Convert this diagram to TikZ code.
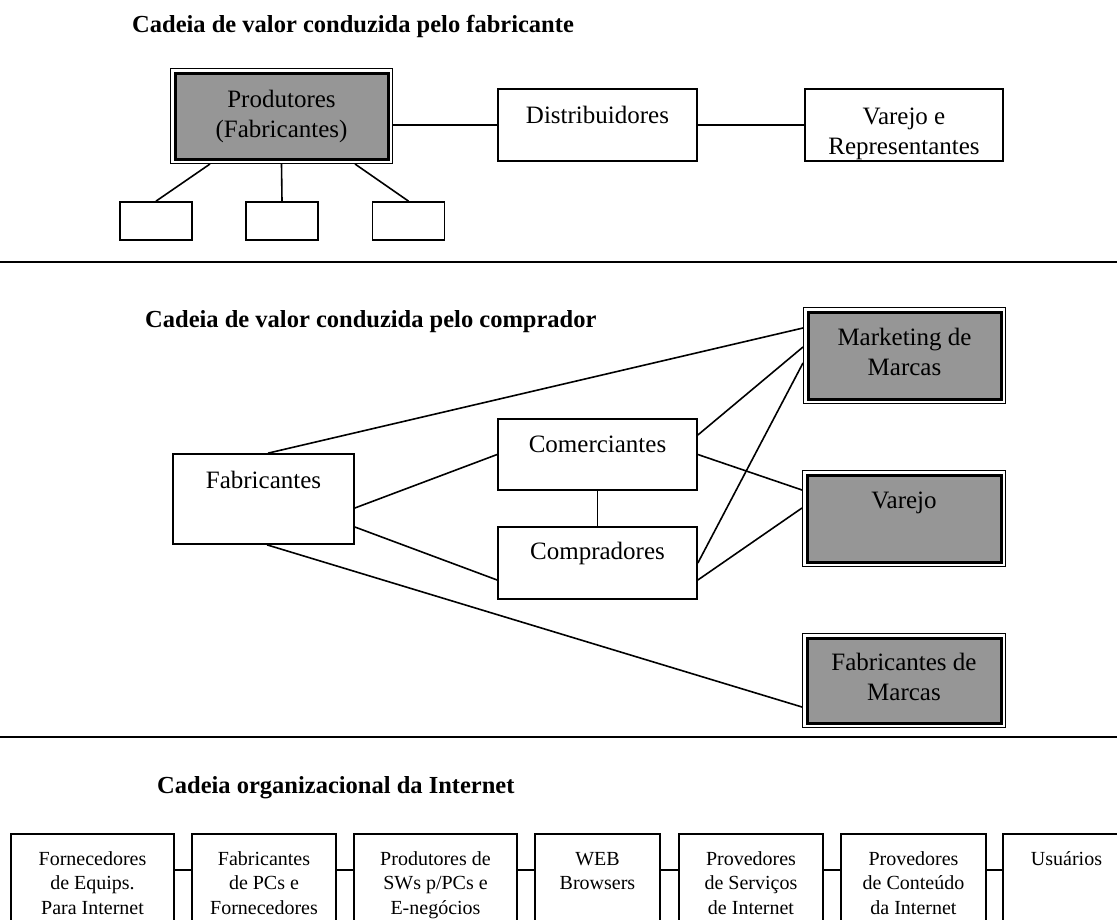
\documentclass[tikz,border=0pt]{standalone}
\usepackage{fontspec}
\setmainfont{Liberation Serif}

\definecolor{boxgrey}{HTML}{969696}

\tikzset{
  box/.style={rectangle, draw=black, line width=1.7pt, fill=white, inner sep=0pt},
  greybox/.style={rectangle, inner sep=0pt, outer sep=5pt, fill=boxgrey,
    draw=black, line width=3pt,
    preaction={draw=black, line width=10pt},
    preaction={draw=white, line width=8pt}},
  % multi-line labels are placed by the baseline of their last line
  lbl/.style={font=\fontsize{25}{30}\selectfont, align=center, inner sep=0pt, anchor=base},
  small/.style={font=\fontsize{20}{24.5}\selectfont, align=center, inner sep=0pt, anchor=base},
  ttl/.style={font=\bfseries\fontsize{24.5}{29}\selectfont, inner sep=0pt, anchor=base west},
  link/.style={draw, line width=1.6pt},
  rule/.style={draw, line width=1.6pt},
}

\begin{document}
\begin{tikzpicture}[x=1pt,y=-1pt]
\useasboundingbox (0,0) rectangle (1117,919);
\fill[white] (0,0) rectangle (1117,919);
\clip (0,0) rectangle (1117,919);

% section titles
\node[ttl] (t1) at (132,32) {Cadeia de valor conduzida pelo fabricante};
\node[ttl] (t2) at (145,327) {Cadeia de valor conduzida pelo comprador};
\node[ttl] (t3) at (157,793) {Cadeia organizacional da Internet};

% separators
\draw[rule] (0,262) -- (1117,262);
\draw[rule] (0,737) -- (1117,737);

% ---- producer-driven chain ----
\node[greybox, minimum width=213pt, minimum height=86pt] (prod) at (281.5,116) {};
\node[lbl] (prodt) at (281.5,137) {Produtores\\(Fabricantes)};
\node[box, minimum width=72pt, minimum height=38pt] (s1) at (156,221) {};
\node[box, minimum width=72pt, minimum height=38pt] (s2) at (282,221) {};
\node[box, minimum width=72pt, minimum height=38pt] (s3) at (408.5,221) {};
\node[box, minimum width=199pt, minimum height=72pt] (dist) at (597.5,125) {};
\node[lbl] (distt) at (597.5,123) {Distribuidores};
\node[box, minimum width=198pt, minimum height=72pt] (vrep) at (904,125) {};
\node[lbl] (vrept) at (904,154) {Varejo e\\Representantes};

\draw[link] (prod.east |- dist.west) -- (dist.west);
\draw[link] (dist.east) -- (vrep.west);
\draw[link] ([xshift=-71.5pt]prod.south) -- (s1.north);
\draw[link] (prod.south) -- (s2.north);
\draw[link] ([xshift=73.5pt]prod.south) -- (s3.north);

% ---- buyer-driven chain ----
\node[box, minimum width=181pt, minimum height=90pt] (fab) at (263.5,499) {};
\node[lbl] (fabt) at (263.5,488) {Fabricantes};
\node[box, minimum width=199pt, minimum height=71pt] (com) at (597.5,454.5) {};
\node[lbl] (comt) at (597.5,452) {Comerciantes};
\node[box, minimum width=199pt, minimum height=72pt] (cpr) at (597.5,563) {};
\node[lbl] (cprt) at (597.5,559) {Compradores};
\node[greybox, minimum width=193pt, minimum height=87pt] (mkt) at (904.5,355.5) {};
\node[lbl] (mktt) at (904.5,375) {Marketing de\\Marcas};
\node[greybox, minimum width=194pt, minimum height=87pt] (var) at (904,518.5) {};
\node[lbl] (vart) at (904,508) {Varejo};
\node[greybox, minimum width=194pt, minimum height=85pt] (fdm) at (904,680.5) {};
\node[lbl] (fdmt) at (904,700) {Fabricantes de\\Marcas};

\draw[link] ([xshift=4.5pt]fab.north) -- ([yshift=27.5pt]mkt.west);
\draw[link] ([yshift=-9pt]fab.east) -- (com.west);
\draw[link] ([yshift=-28pt]fab.east) -- ([yshift=-17pt]cpr.west);
\draw[link] ([xshift=3.5pt]fab.south) -- ([yshift=-26.5pt]fdm.west);
\draw[link] ([yshift=19.5pt]com.east) -- ([yshift=8.5pt]mkt.west);
\draw[link] (com.east) -- ([yshift=28.5pt]var.west);
\draw[link] (cpr.east) -- ([yshift=-7.5pt]mkt.west);
\draw[link] ([yshift=-17pt]cpr.east) -- ([yshift=10.5pt]var.west);
\draw[link] (com.south) -- (cpr.north);

% ---- Internet chain ----
\node[box, minimum width=163pt, minimum height=96pt] (b1) at (92.5,882) {};
\node[box, minimum width=144pt, minimum height=96pt] (b2) at (264,882) {};
\node[box, minimum width=163pt, minimum height=96pt] (b3) at (435.5,882) {};
\node[box, minimum width=125pt, minimum height=96pt] (b4) at (597.5,882) {};
\node[box, minimum width=144pt, minimum height=96pt] (b5) at (751,882) {};
\node[box, minimum width=145pt, minimum height=96pt] (b6) at (913.5,882) {};
\node[box, minimum width=127pt, minimum height=96pt] (b7) at (1066.5,882) {};

\node[small] (b1t) at (92.5,914) {Fornecedores\\de Equips.\\Para Internet};
\node[small] (b2t) at (264,914) {Fabricantes\\de PCs e\\Fornecedores};
\node[small] (b3t) at (435.5,914) {Produtores de\\SWs p/PCs e\\E-negócios};
\node[small] (b4t) at (597.5,889.5) {WEB\\Browsers};
\node[small] (b5t) at (751,914) {Provedores\\de Serviços\\de Internet};
\node[small] (b6t) at (913.5,914) {Provedores\\de Conteúdo\\da Internet};
\node[small] (b7t) at (1066.5,865) {Usuários};

\foreach \a/\b in {b1/b2,b2/b3,b3/b4,b4/b5,b5/b6,b6/b7}
  \draw[link] ([yshift=12pt]\a.east) -- ([yshift=12pt]\b.west);
\end{tikzpicture}
\end{document}
